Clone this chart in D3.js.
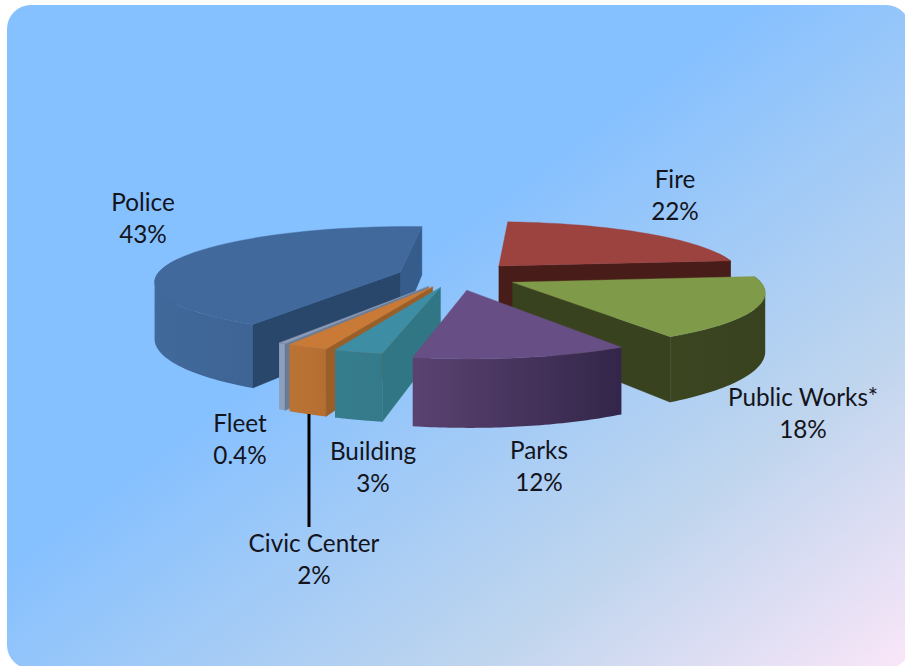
<!DOCTYPE html>
<html><head><meta charset="utf-8">
<script src="https://cdn.jsdelivr.net/npm/d3@7/dist/d3.min.js"></script>
<style>html,body{margin:0;padding:0;background:#fff;overflow:hidden}svg{display:block}</style>
</head><body><svg id="chart" width="905" height="666"></svg>
<script>
// ---- data
const categories = ["Fire","Public Works*","Parks","Building","Civic Center","Fleet","Police"];
const shares     = [22.3,18,11.8,2.7,2.3,0.4,42.9];
const shareLabels= ["22%","18%","12%","3%","2%","0.4%","43%"];
// ---- styling per category
const topColors    = ["#9c423f","#7f9a48","#674e84","#3d8ea5","#c97a36","#8b9bb8","#41699c"];
const wallLeft     = ["#481c18","#3b4520","#5a4270","#367d8d","#bb7235","#8c9fbc","#41699a"];
const wallRight    = ["#481c18","#39421f","#33264a","#347a8a","#b56e31","#8c9fbc","#3d6494"];
const startWalls   = ["#481c18","#39421f","#33264a","#307684","#9a5f29","#6a7b94","#29466b"];
const endWalls     = ["#481c18","#39421f","#33264a","#307684","#9a5f29","#6a7b94","#365c8b"];
const explodeBy    = [65,63,63,52,52,52,58];
const paintOrder   = ["Fire","Police","Public Works*","Fleet","Civic Center","Building","Parks"];

// ---- geometry of the exploded perspective pie
const radius = 244, tilt = 0.22, persp = 0.15, depth = 56;
const startDeg = 4;
const px = d3.scaleLinear().domain([0,1]).range([455,456]);
const py = d3.scaleLinear().domain([0,1]).range([276,276+tilt]);
const rad = d3.scaleLinear().domain([0,360]).range([0,2*Math.PI]);
const persScale = V => 1/(1-persp*V/radius);
function project(U,V,drop){
  const s = persScale(V);
  return [px(U*s), py(V*s)+(drop?depth*s:0)];
}
function rimPoint(c,a,drop){
  return project(c.ox+radius*Math.sin(a), c.oy-radius*Math.cos(a), drop);
}
const pie = d3.pie().sort(null).value(v=>v)
  .startAngle(rad(startDeg)).endAngle(rad(startDeg)+2*Math.PI);
const slices = pie(shares).map((d,i)=>{
  const mid=(d.startAngle+d.endAngle)/2;
  return {...d,i,name:categories[i],ox:explodeBy[i]*Math.sin(mid),oy:-explodeBy[i]*Math.cos(mid)};
});

const svg = d3.select("#chart");
const defs = svg.append("defs");
const bg = defs.append("linearGradient").attr("id","bg")
  .attr("gradientUnits","userSpaceOnUse").attr("x1",0).attr("y1",0).attr("x2",646).attr("y2",861);
[[0,"#85c0ff"],[0.42,"#85c0ff"],[0.76,"#bfd5ee"],[1,"#fae6f8"]].forEach(s=>
  bg.append("stop").attr("offset",s[0]).attr("stop-color",s[1]));
svg.append("rect").attr("x",7).attr("y",5).attr("width",903).attr("height",664)
  .attr("rx",24).attr("fill","url(#bg)");

const line = d3.line();
const sample = (a0,a1)=>{const n=48;return d3.range(n+1).map(k=>a0+(a1-a0)*k/n);};
const overshoot = rad(15);

function face(g,d,fill){
  g.append("path").attr("d",d).attr("fill",fill).attr("stroke",fill).attr("stroke-width",0.4);
}
function drawSlice(c){
  const g = svg.append("g").attr("class","slice");
  const apexT = project(c.ox,c.oy,false), apexB = project(c.ox,c.oy,true);
  const wall=(a,fill)=>{
    const t=rimPoint(c,a,false), b=rimPoint(c,a,true);
    face(g,line([apexT,t,b,apexB])+"Z",fill);
  };
  // outer wall: vertical strips along the rim, all wound the same way
  const a0=Math.max(c.startAngle,Math.PI/2-overshoot), a1=Math.min(c.endAngle,3*Math.PI/2+overshoot);
  if(a1>a0){
    const as=sample(a0,a1);
    const top=as.map(a=>rimPoint(c,a,false)), bot=as.map(a=>rimPoint(c,a,true));
    const xs=d3.extent(top,p=>p[0]);
    const gid="w"+c.i;
    const gr=defs.append("linearGradient").attr("id",gid).attr("gradientUnits","userSpaceOnUse")
      .attr("x1",xs[0]).attr("x2",xs[1]).attr("y1",0).attr("y2",0);
    gr.append("stop").attr("offset",0).attr("stop-color",wallLeft[c.i]);
    gr.append("stop").attr("offset",1).attr("stop-color",wallRight[c.i]);
    let d="";
    d3.range(as.length-1).forEach(k=>{
      const [l,r]=top[k][0]<=top[k+1][0]?[k,k+1]:[k+1,k];
      d+=line([top[l],top[r],bot[r],bot[l]])+"Z";
    });
    g.append("path").attr("d",d).attr("fill",`url(#${gid})`);
  }
  // radial walls seen from the viewer's side only
  if(rimPoint(c,c.endAngle,false)[0]>apexT[0]) wall(c.endAngle,endWalls[c.i]);
  if(rimPoint(c,c.startAngle,false)[0]<apexT[0]) wall(c.startAngle,startWalls[c.i]);
  // top face
  const rim=sample(c.startAngle,c.endAngle).map(a=>rimPoint(c,a,false));
  face(g,line([apexT].concat(rim))+"Z",topColors[c.i]);
}
paintOrder.forEach(n=>drawSlice(slices.find(s=>s.name===n)));

// ---- leader line and labels
svg.append("line").attr("x1",309).attr("x2",309).attr("y1",414).attr("y2",527)
  .attr("stroke","#000").attr("stroke-width",3);
const labelAt = {"Fire":[675,188],"Public Works*":[803,406],"Parks":[539,459],"Building":[373,460],
  "Civic Center":[314,552],"Fleet":[240,432],"Police":[143,211]};
slices.forEach(c=>{
  const [x,y]=labelAt[c.name];
  const t=svg.append("text").attr("text-anchor","middle")
    .attr("font-family","Lato, 'Open Sans', sans-serif").attr("font-size",24.3).attr("fill","#14141c");
  t.append("tspan").attr("x",x).attr("y",y).text(c.name);
  t.append("tspan").attr("x",x).attr("y",y+32).text(shareLabels[c.i]);
});
</script></body></html>
